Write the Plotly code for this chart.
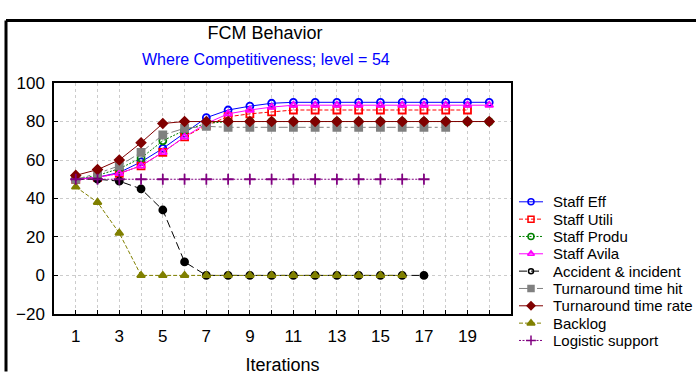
import plotly.graph_objects as go

W, H = 696, 378

iterations = list(range(1, 21))

staff_eff = [50, 51, 53.5, 59, 66, 74, 82, 86, 88, 89.5, 90, 90, 90, 90, 90, 90, 90, 90, 90, 90]
staff_utili = [50, 51, 53, 57, 64, 72, 78, 82.5, 84, 85, 86, 86, 86, 86, 86, 86, 86, 86, 86]
staff_produ = [50, 52, 55.5, 61, 70, 75.5, 79, 80, 80, 80, 80, 80, 80, 80, 80, 80, 80, 80, 80, 80]
staff_avila = [50, 51, 53, 57, 64, 72, 79, 84, 86, 87.5, 88.5, 88.5, 88.5, 88.5, 88.5, 88.5, 88.5, 88.5, 88.5, 88.5]
accident = [50, 50, 49, 45, 34, 7, 0, 0, 0, 0, 0, 0, 0, 0, 0, 0, 0]
turn_hit = [50, 53, 57, 64, 73, 76.5, 77.5, 77, 77, 77, 77, 77, 77, 77, 77, 77, 77, 77]
turn_rate = [52, 55, 60, 69, 79, 80, 80, 80, 80, 80, 80, 80, 80, 80, 80, 80, 80, 80, 80, 80]
backlog = [46, 38, 22, 0, 0, 0, 0, 0, 0, 0, 0, 0, 0, 0, 0, 0]
logistic = [50, 50, 50, 50, 50, 50, 50, 50, 50, 50, 50, 50, 50, 50, 50, 50, 50]

series_names = ["Staff Eff", "Staff Utili", "Staff Produ", "Staff Avila",
                "Accident & incident", "Turnaround time hit", "Turnaround time rate",
                "Backlog", "Logistic support"]
series_values = [staff_eff, staff_utili, staff_produ, staff_avila, accident,
                 turn_hit, turn_rate, backlog, logistic]

x_tick_vals = list(range(0, 22))
x_tick_text = [str(v) if v % 2 == 1 and v < 20 else "" for v in x_tick_vals]

title_text = "FCM Behavior"
subtitle_text = "Where Competitiveness; level = 54"
x_title = "Iterations"

styles = [
    dict(color="#0000FF", dash="solid", symbol="circle-open", size=7, lsym="circle-open", lsize=6),
    dict(color="#FF0000", dash="4px,2px", symbol="square-open", size=7, lsym="square-open", lsize=6),
    dict(color="#008000", dash="2px,1.5px", symbol="circle-open", size=7, lsym="circle-open", lsize=6),
    dict(color="#FF00FF", dash="solid", symbol="triangle-up-open", size=7, lsym="triangle-up-open", lsize=6),
    dict(color="#000000", dash="8px,4px", symbol="circle", size=7, lsym="circle-open", lsize=5),
    dict(color="#808080", dash="9px,3px,3px,3px", symbol="square", size=7, lsym="square", lsize=6),
    dict(color="#800000", dash="solid", symbol="diamond", size=7, lsym="diamond", lsize=6),
    dict(color="#808000", dash="4px,2px", symbol="triangle-up", size=7, lsym="triangle-up", lsize=7),
    dict(color="#800080", dash="2px,1.5px", symbol="cross-thin-open", size=8, lsym="cross-thin-open", lsize=7),
]

FONT = "Liberation Sans, Arial, sans-serif"

fig = go.Figure()

for name, vals, st in zip(series_names, series_values, styles):
    fig.add_trace(go.Scatter(
        x=iterations[:len(vals)], y=vals, name=name, mode="lines+markers",
        line=dict(color=st["color"], width=1, dash=st["dash"]),
        marker=dict(symbol=st["symbol"], size=st["size"], color=st["color"],
                    line=dict(color=st["color"], width=1.8)),
        showlegend=False, xaxis="x", yaxis="y",
    ))

# custom legend (samples on a hidden pixel-scaled axis, text as annotations)
leg_top = 203
leg_step = 18.25
for i, (name, st) in enumerate(zip(series_names, styles)):
    row = leg_top + i * leg_step
    fig.add_trace(go.Scatter(
        x=[0, 0.5, 1], y=[row, row, row], mode="lines+markers",
        line=dict(color=st["color"], width=1, dash=st["dash"]),
        marker=dict(symbol=st["lsym"], size=st["lsize"], color=st["color"],
                    opacity=[0, 1, 0], line=dict(color=st["color"], width=1.5)),
        showlegend=False, hoverinfo="skip", xaxis="x2", yaxis="y2",
    ))
    fig.add_annotation(x=551 / W, y=1 - row / H, xref="paper", yref="paper",
                       text=name, showarrow=False, xanchor="left", yanchor="middle",
                       font=dict(family=FONT, size=15, color="black"))

fig.add_annotation(x=266 / W, y=1 - 53 / H, xref="paper", yref="paper",
                   text=subtitle_text, showarrow=False, xanchor="center", yanchor="middle",
                   font=dict(family=FONT, size=16, color="#0000FF"))

# outer frame (left and top edges)
fig.add_shape(type="line", xref="paper", yref="paper", x0=6 / W, x1=1.01, y0=1 - 12 / H, y1=1 - 12 / H,
              line=dict(color="black", width=3))
fig.add_shape(type="line", xref="paper", yref="paper", x0=6 / W, x1=6 / W, y0=1 - 12 / H, y1=-0.01,
              line=dict(color="black", width=3))

grid = dict(showgrid=True, gridcolor="#cccccc", griddash="dot", gridwidth=1)

fig.update_layout(
    width=W, height=H,
    margin=dict(l=0, r=0, t=0, b=0),
    paper_bgcolor="white", plot_bgcolor="white",
    font=dict(family=FONT, size=16, color="black"),
    title=dict(text=title_text, x=265 / W, xanchor="center", y=1 - 33 / H, yanchor="middle",
               yref="container", font=dict(family=FONT, size=18, color="black")),
    xaxis=dict(domain=[54 / W, 511 / W], range=[0, 21], tickmode="array",
               tickvals=x_tick_vals, ticktext=x_tick_text, ticks="inside", ticklen=4,
               tickcolor="black", showline=True, linecolor="black", linewidth=1.5,
               mirror=True, zeroline=False, anchor="y",
               ticklabelstandoff=6,
               title=dict(text=x_title, font=dict(family=FONT, size=18), standoff=13),
               tickfont=dict(family=FONT, size=17), **grid),
    yaxis=dict(domain=[1 - 321 / H, 1 - 78 / H], range=[-20, 100], dtick=20, tick0=0,
               ticks="inside", ticklen=4, tickcolor="black", showline=True,
               linecolor="black", linewidth=1.5, mirror=True, zeroline=False, anchor="x",
               ticklabelstandoff=4,
               tickfont=dict(family=FONT, size=17), **grid),
    xaxis2=dict(domain=[519 / W, 543 / W], range=[0, 1], visible=False, anchor="y2", fixedrange=True),
    yaxis2=dict(domain=[0, 1], range=[H, 0], visible=False, anchor="x2", fixedrange=True),
)

fig.write_html("out.html", config={"displayModeBar": False},
               post_script="document.body.style.margin='0';document.body.style.overflow='hidden';")
